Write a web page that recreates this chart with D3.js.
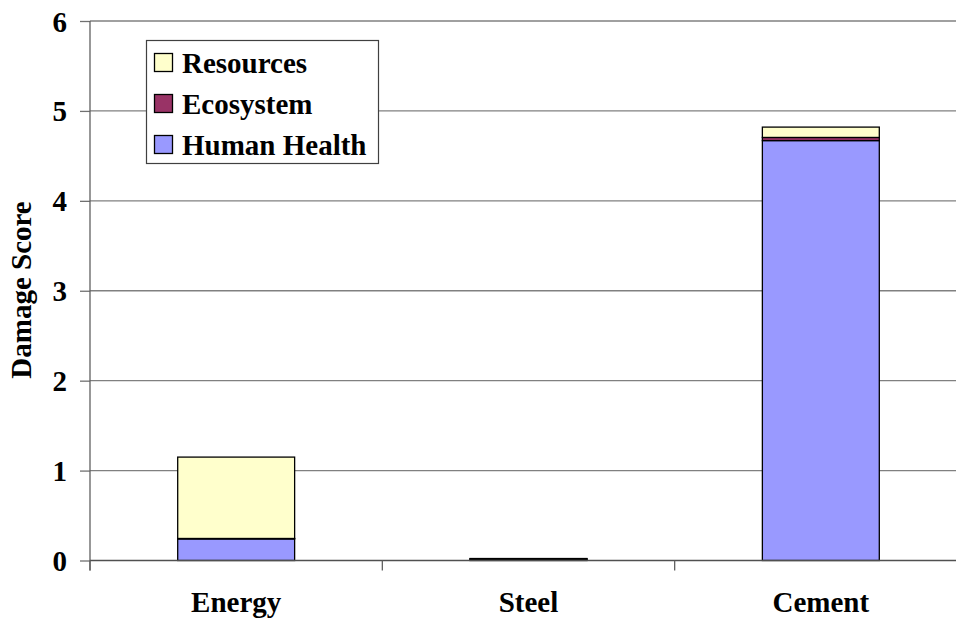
<!DOCTYPE html>
<html>
<head>
<meta charset="utf-8">
<script src="https://cdn.jsdelivr.net/npm/d3@7"></script>
<style>
    body { margin: 0; background: #fff; }
    text { font-family: "Liberation Serif", "Times New Roman", serif; font-weight: bold; fill: #000; }
</style>
</head>
<body>
<div id="chart"></div>
<script>
// Chart data
const categories = ["Energy", "Steel", "Cement"];
const seriesNames = ["Human Health", "Ecosystem", "Resources"];
const humanHealth = [0.24, 0.012, 4.67];
const ecosystem = [0.005, 0.006, 0.035];
const resources = [0.905, 0.004, 0.115];
const yTicks = [0, 1, 2, 3, 4, 5, 6];
const seriesColors = ["#9999FF", "#993366", "#FFFFCC"];

// Sizes (in px)
const width = 956, height = 619;
const plotLeft = 90, plotRight = 967, plotTop = 21, plotBottom = 560.5;
const fontSize = 29;

const svg = d3.select("#chart").append("svg")
    .attr("width", width)
    .attr("height", height);

const x = d3.scaleBand()
    .domain(categories)
    .range([plotLeft, plotRight])
    .paddingInner(0.6)
    .paddingOuter(0.3);

const y = d3.scaleLinear()
    .domain([0, 6])
    .range([plotBottom, plotTop]);

// Gridlines
svg.append("g")
    .selectAll("line")
    .data(yTicks.filter(d => d > 0))
    .enter()
    .append("line")
    .attr("x1", plotLeft)
    .attr("x2", plotRight)
    .attr("y1", d => y(d))
    .attr("y2", d => y(d))
    .attr("stroke", "#808080")
    .attr("stroke-width", 1.3);

// Stacked bars
const table = categories.map((c, i) => ({
    category: c,
    "Human Health": humanHealth[i],
    "Ecosystem": ecosystem[i],
    "Resources": resources[i]
}));
const stacked = d3.stack().keys(seriesNames)(table);

svg.append("g")
    .selectAll("g")
    .data(stacked)
    .enter()
    .append("g")
    .attr("fill", (d, i) => seriesColors[i])
    .selectAll("rect")
    .data(d => d)
    .enter()
    .append("rect")
    .attr("x", d => x(d.data.category))
    .attr("width", x.bandwidth())
    .attr("y", d => y(d[1]))
    .attr("height", d => y(d[0]) - y(d[1]))
    .attr("stroke", "#000")
    .attr("stroke-width", 1.3);

// Y axis
const yAxis = svg.append("g")
    .attr("transform", `translate(${plotLeft},0)`)
    .call(d3.axisLeft(y).tickValues(yTicks).tickFormat(d3.format("d")).tickSize(10).tickPadding(0));
yAxis.select(".domain").remove();
yAxis.selectAll(".tick line").attr("stroke", "#707070").attr("stroke-width", 1.3);
yAxis.selectAll(".tick text")
    .attr("x", -23)
    .attr("dy", null)
    .attr("y", 10)
    .attr("fill", "#000")
    .attr("font-size", fontSize)
    .attr("font-family", null);
yAxis.append("line")
    .attr("x1", 0).attr("x2", 0)
    .attr("y1", plotTop).attr("y2", plotBottom + 10)
    .attr("stroke", "#606060")
    .attr("stroke-width", 1.3);

// X axis
const bounds = [plotLeft, plotLeft + x.step(), plotLeft + 2 * x.step(), plotRight];
svg.append("line")
    .attr("x1", plotLeft).attr("x2", plotRight)
    .attr("y1", plotBottom).attr("y2", plotBottom)
    .attr("stroke", "#505050")
    .attr("stroke-width", 1.5);
svg.append("g")
    .selectAll("line")
    .data(bounds)
    .enter()
    .append("line")
    .attr("x1", d => d).attr("x2", d => d)
    .attr("y1", plotBottom).attr("y2", plotBottom + 10)
    .attr("stroke", "#606060")
    .attr("stroke-width", 1.3);
svg.append("g")
    .selectAll("text")
    .data(categories)
    .enter()
    .append("text")
    .attr("text-anchor", "middle")
    .attr("font-size", fontSize)
    .attr("x", d => x(d) + x.bandwidth() / 2)
    .attr("y", 612)
    .text(d => d);

// Y axis title
svg.append("text")
    .attr("text-anchor", "middle")
    .attr("font-size", fontSize)
    .attr("transform", "translate(31,290) rotate(-90)")
    .text("Damage Score");

// Legend
const legend = svg.append("g");
legend.append("rect")
    .attr("x", 146.5).attr("y", 40.5)
    .attr("width", 232).attr("height", 123)
    .attr("fill", "#fff")
    .attr("stroke", "#404040")
    .attr("stroke-width", 1.2);
const legendItems = legend.selectAll(".legendItem")
    .data(seriesNames.slice().reverse())
    .enter()
    .append("g")
    .attr("class", "legendItem")
    .attr("transform", (d, i) => `translate(154,${72.5 + i * 41})`);
legendItems.append("rect")
    .attr("x", 0.5).attr("y", -19)
    .attr("width", 18).attr("height", 18)
    .attr("fill", d => seriesColors[seriesNames.indexOf(d)])
    .attr("stroke", "#000")
    .attr("stroke-width", 1.3);
legendItems.append("text")
    .attr("font-size", fontSize)
    .attr("x", 28)
    .text(d => d);
</script>
</body>
</html>
